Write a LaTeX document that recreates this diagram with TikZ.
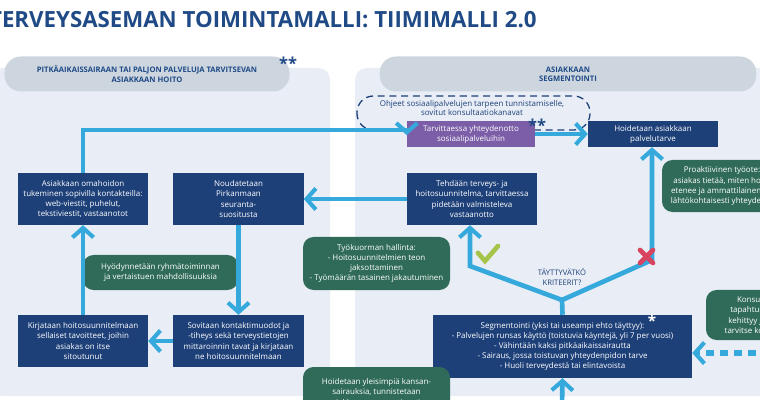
\documentclass[tikz,border=0pt]{standalone}
\usepackage{fontspec}
\setmainfont{Open Sans}
\usetikzlibrary{arrows.meta}
\definecolor{navy}{HTML}{1D4079}
\definecolor{vihrea}{HTML}{2F6B58}
\definecolor{sky}{HTML}{35A8DC}
\definecolor{panel}{HTML}{E9EEF6}
\definecolor{pill}{HTML}{CDD6DF}
\definecolor{lila}{HTML}{7B5EA7}
\definecolor{title}{HTML}{1F4A86}
\definecolor{ok}{HTML}{A5C44A}
\definecolor{ei}{HTML}{D8435F}
\tikzset{
  navybox/.style={fill=navy,text=white,align=center,font=\fontsize{6.8}{8.6}\selectfont,inner sep=1pt},
  greenbox/.style={fill=vihrea,text=white,align=center,rounded corners=9pt,font=\fontsize{6.8}{8.6}\selectfont,inner sep=1pt},
  flow/.style={sky,line width=4pt,-{Straight Barb[length=8pt,width=18pt,line width=3.5pt]}},
  flowline/.style={sky,line width=4pt},
  head/.style={fill=pill,rounded corners=14pt,text=title,font=\bfseries\fontsize{6.5}{8}\selectfont,align=center},
  star/.style={text=title,font=\bfseries\fontsize{14}{14}\selectfont}
}
\begin{document}
\begin{tikzpicture}[x=0.03cm,y=-0.03cm]
\useasboundingbox (0,0) rectangle (760,400);
\clip (0,0) rectangle (760,400);
% taustat
\fill[white] (0,0) rectangle (760,400);
\fill[panel,rounded corners=10pt] (-10,68) rectangle (330,396);
\fill[panel,rounded corners=10pt] (355,68) rectangle (790,396);
\node[anchor=west,text=title,font=\bfseries\fontsize{19}{19}\selectfont] (otsikko) at (-15,20) {TERVEYSASEMAN TOIMINTAMALLI: TIIMIMALLI 2.0};
\node[head,minimum width=8.55cm,minimum height=1.05cm] (pitka) at (147,74) {PITKÄAIKAISSAIRAAN TAI PALJON PALVELUJA TARVITSEVAN\\ASIAKKAAN HOITO};
\node[star] (t1) at (288,63) {**};
\node[head,minimum width=11.3cm,minimum height=1.05cm] (segm) at (568,74) {ASIAKKAAN\\SEGMENTOINTI};
\draw[navy,dashed,line width=1.1pt,dash pattern=on 6pt off 4pt,rounded corners=14pt] (357,96) rectangle (590,130);
\node[text=navy,font=\fontsize{6.8}{8.2}\selectfont,align=center] (ohjeet) at (472,108) {Ohjeet sosiaalipalvelujen tarpeen tunnistamiselle,\\sovitut konsultaatiokanavat};
% laatikot
\node[fill=lila,text=white,align=center,font=\fontsize{6.8}{8.6}\selectfont,inner sep=1pt,minimum width=3.84cm,minimum height=0.78cm] (sos) at (471,134) {Tarvittaessa yhteydenotto\\sosiaalipalveluihin};
\node[star] (t2) at (537,125) {**};
\node[navybox,minimum width=3.9cm,minimum height=0.78cm] (hoid) at (653,134) {Hoidetaan asiakkaan\\palvelutarve};
\node[navybox,minimum width=3.9cm,minimum height=1.56cm] (oma) at (83,199) {Asiakkaan omahoidon\\tukeminen sopivilla kontakteilla:\\web-viestit, puhelut,\\tekstiviestit, vastaanotot};
\node[navybox,minimum width=3.9cm,minimum height=1.56cm] (noud) at (238.5,199) {Noudatetaan\\Pirkanmaan\\seuranta-\\suositusta};
\node[navybox,minimum width=3.9cm,minimum height=1.56cm] (tehd) at (472,199) {Tehdään terveys- ja\\hoitosuunnitelma, tarvittaessa\\pidetään valmisteleva\\vastaanotto};
\node[navybox,minimum width=3.9cm,minimum height=1.56cm] (kirj) at (83,341) {Kirjataan hoitosuunnitelmaan\\sellaiset tavoitteet, joihin\\asiakas on itse\\sitoutunut};
\node[navybox,minimum width=3.9cm,minimum height=1.56cm] (sovi) at (238.5,341) {Sovitaan kontaktimuodot ja\\-tiheys sekä terveystietojen\\mittaroinnin tavat ja kirjataan\\ne hoitosuunnitelmaan};
\node[navybox,minimum width=7.77cm,minimum height=1.89cm] (seg) at (562.5,346.5) {Segmentointi (yksi tai useampi ehto täyttyy):\\- Palvelujen runsas käyttö (toistuvia käyntejä, yli 7 per vuosi)\\- Vähintään kaksi pitkäaikaissairautta\\- Sairaus, jossa toistuvan yhteydenpidon tarve\\- Huoli terveydestä tai elintavoista};
\node[text=white,font=\bfseries\fontsize{13}{13}\selectfont,inner sep=0pt] (t3) at (652,321) {*};
\node[greenbox,minimum width=4.65cm,minimum height=1.05cm] (ryhma) at (160.5,272.5) {Hyödynnetään ryhmätoiminnan\\ja vertaistuen mahdollisuuksia};
\node[greenbox,minimum width=4.41cm,minimum height=1.59cm] (tyo) at (376.5,263.5) {Työkuorman hallinta:\\- Hoitosuunnitelmien teon\\jaksottaminen\\- Työmäärän tasainen jakautuminen};
\node[greenbox,minimum width=4.41cm,minimum height=1.5cm] (kansan) at (376.5,392) {Hoidetaan yleisimpiä kansan-\\sairauksia, tunnistetaan\\asiakkaan oma motivaatio};
\node[greenbox,minimum width=3.6cm,minimum height=1.56cm] (proak) at (722,186) {Proaktiivinen työote:\\asiakas tietää, miten hoito\\etenee ja ammattilainen on\\lähtökohtaisesti yhteydessä};
\node[greenbox,minimum width=3.6cm,minimum height=1.5cm] (konsul) at (766,315) {Konsultaatio tai\\tapahtuma: tilanne\\kehittyy ja asiakas ei\\tarvitse konsultaatiota};
\node[text=navy,font=\fontsize{6.5}{8}\selectfont,align=center] (kriteeri) at (562,277) {TÄYTTYVÄTKÖ\\KRITEERIT?};
% nuolet
\coordinate (ylos) at (83,130);
\coordinate (haara) at (562,300);
\coordinate (vasen) at (470,266);
\coordinate (oik) at (652,260);
\coordinate (alas) at (562,405);
\coordinate (oikea) at (770,353);
\coordinate (katko) at (700,353);
\draw[flow] (oma.north) -- (ylos) -- (sos.west |- ylos) -- ([yshift=-1pt]sos.west);
\draw[flow] (sos) -- (hoid);
\draw[flow] (tehd) -- (noud);
\draw[flow] (noud) -- (sovi);
\draw[flow] (sovi) -- (kirj);
\draw[flow] (kirj) -- (oma);
\draw[flowline] (seg.north) -- (haara);
\draw[flow] (haara) -- (vasen) -- (vasen |- tehd.south);
\draw[flow] (haara) -- (oik) -- (oik |- hoid.south);
\draw[flow] (alas) -- (seg.south);
\draw[sky,line width=5pt,dash pattern=on 7pt off 5pt] (oikea) -- (katko);
\draw[flow] (katko) -- (seg.east |- oikea);
% merkit
\draw[ok,line width=4pt,line cap=round] (478,253) -- (485,261) -- (498,246);
\draw[ei,line width=4pt,line cap=round] (640,250) -- (653,263) (653,250) -- (640,263);
\end{tikzpicture}
\end{document}
